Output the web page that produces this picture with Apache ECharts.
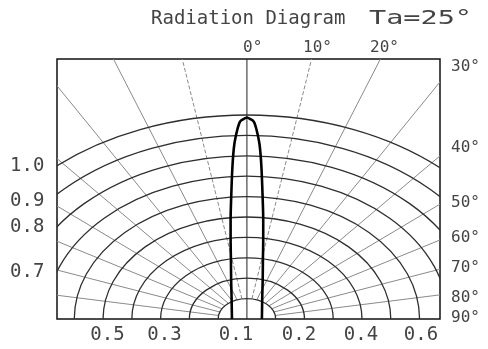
<!DOCTYPE html>
<html>
<head>
<meta charset="utf-8">
<script src="https://cdn.jsdelivr.net/npm/echarts@6/dist/echarts.min.js"></script>
<style>
html, body { margin: 0; padding: 0; background: #fff; }
#main { width: 488px; height: 349px; }
</style>
</head>
<body>
<div id="main"></div>
<script>
// relative intensity vs angle (deg); mirrored for the left half
const beamAngle = [0, 0.71, 1.44, 2.08, 2.96, 3.86, 5.38, 6.67, 8.33, 10.9, 16.0, 27.3, 50, 90];
const beamValue = [0.988, 0.98, 0.967, 0.927, 0.854, 0.748, 0.586, 0.488, 0.391, 0.294, 0.199, 0.116, 0.0686, 0.052];

const rings = [0.1, 0.2, 0.3, 0.4, 0.5, 0.6, 0.7, 0.8, 0.9, 1.0];
const spokes = [-80, -70, -60, -50, -40, -30, -20, -10, 0, 10, 20, 30, 40, 50, 60, 70, 80];

const titleText = 'Radiation Diagram';
const tempText = 'Ta=25°';
const topLabels = ['0°', '10°', '20°'];
const rightLabels = ['30°', '40°', '50°', '60°', '70°', '80°', '90°'];
const leftLabels = ['1.0', '0.9', '0.8', '0.7'];
const bottomLabels = ['0.5', '0.3', '0.1', '0.2', '0.4', '0.6'];

// label placement (px)
const topPos = [243, 303, 370];
const rightPos = [66.5, 147.5, 202.5, 238, 267.5, 297.5, 317.5];
const leftPos = [166.5, 201.5, 227.5, 272];
const bottomPos = [107.5, 164.5, 236, 299, 361, 421];

const rad = (d) => (d * Math.PI) / 180;

const beam = [];
for (let i = beamAngle.length - 1; i >= 0; i--) {
	beam.push([-beamValue[i] * Math.sin(rad(beamAngle[i])), beamValue[i] * Math.cos(rad(beamAngle[i]))]);
}
for (let i = 1; i < beamAngle.length; i++) {
	beam.push([beamValue[i] * Math.sin(rad(beamAngle[i])), beamValue[i] * Math.cos(rad(beamAngle[i]))]);
}

const txt = '#444';
const mono = '"DejaVu Sans Mono", monospace';

const graphic = [];
graphic.push({
	type: 'text', x: 151, y: 19,
	style: { text: titleText, font: '19px ' + mono, fill: txt, textVerticalAlign: 'middle' },
});
graphic.push({
	type: 'text', x: 369, y: 19, scaleX: 1.5,
	style: { text: tempText, font: '19px ' + mono, fill: txt, textVerticalAlign: 'middle' },
});
topLabels.forEach((t, i) => {
	graphic.push({
		type: 'text', x: topPos[i], y: 47.5,
		style: { text: t, font: '16px ' + mono, fill: txt, textVerticalAlign: 'middle' },
	});
});
rightLabels.forEach((t, i) => {
	graphic.push({
		type: 'text', x: 451, y: rightPos[i],
		style: { text: t, font: '16px ' + mono, fill: txt, textVerticalAlign: 'middle' },
	});
});
leftLabels.forEach((t, i) => {
	graphic.push({
		type: 'text', x: 10, y: leftPos[i],
		style: { text: t, font: '19px ' + mono, fill: txt, textVerticalAlign: 'middle' },
	});
});
bottomLabels.forEach((t, i) => {
	graphic.push({
		type: 'text', x: bottomPos[i], y: 335.5,
		style: { text: t, font: '19px ' + mono, fill: txt, textAlign: 'center', textVerticalAlign: 'middle' },
	});
});

const chart = echarts.init(document.getElementById('main'), null, { renderer: 'canvas' });

const option = {
	animation: false,
	backgroundColor: '#fff',
	grid: {
		left: 57, top: 59, width: 383, height: 260,
		show: true, backgroundColor: 'transparent', borderColor: '#111', borderWidth: 1.5,
	},
	xAxis: { type: 'value', min: -0.66, max: 0.671, show: false },
	yAxis: { type: 'value', min: 0, max: 1.2745, show: false },
	graphic: graphic,
	series: [
		{
			type: 'custom',
			clip: true,
			data: spokes.map((a) => [0, 0, a]),
			renderItem: (params, api) => {
				const a = rad(api.value(2));
				const r0 = api.value(2) === 0 ? 0 : 0.1;
				const p1 = api.coord([r0 * Math.sin(a), r0 * Math.cos(a)]);
				const p2 = api.coord([3 * Math.sin(a), 3 * Math.cos(a)]);
				const ten = Math.abs(api.value(2)) === 10;
				return {
					type: 'line',
					shape: { x1: p1[0], y1: p1[1], x2: p2[0], y2: p2[1] },
					style: {
						stroke: api.value(2) === 0 ? '#222' : '#8a8a8a',
						lineWidth: 1,
						lineDash: ten ? [4, 2] : null,
					},
				};
			},
		},
		{
			type: 'custom',
			clip: true,
			data: rings.map((r) => [r, 0]),
			renderItem: (params, api) => {
				const r = api.value(0);
				const c = api.coord([0, 0]);
				const p = api.coord([r, r]);
				const rx = p[0] - c[0];
				const ry = c[1] - p[1];
				return {
					type: 'path',
					shape: {
						pathData: 'M ' + (c[0] - rx) + ' ' + c[1] + ' A ' + rx + ' ' + ry + ' 0 0 1 ' + (c[0] + rx) + ' ' + c[1],
					},
					style: { fill: 'none', stroke: '#2e2e2e', lineWidth: 1.3 },
				};
			},
		},
		{
			type: 'line',
			data: beam,
			smooth: 0.3,
			symbol: 'none',
			lineStyle: { color: '#000', width: 2.6 },
			z: 5,
		},
	],
};
chart.setOption(option);
</script>
</body>
</html>
